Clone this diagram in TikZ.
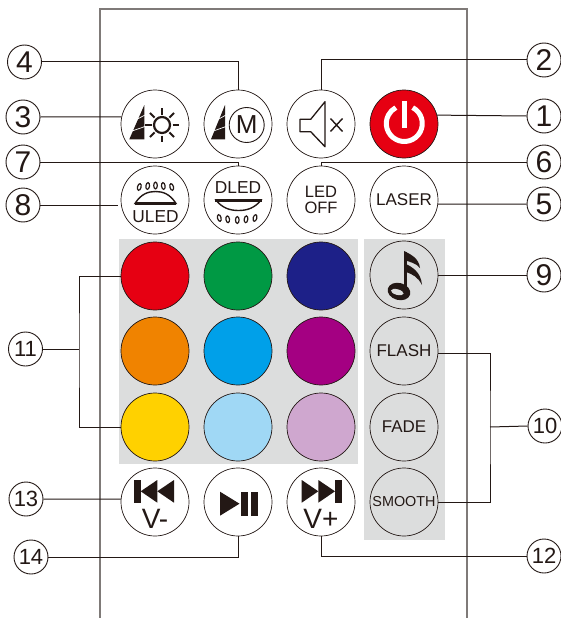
\documentclass[tikz,border=0pt]{standalone}
\usepackage{fontspec}
\setmainfont{Liberation Sans}
\definecolor{ink}{HTML}{231815}
\definecolor{body}{HTML}{7F7A78}
\definecolor{panel}{HTML}{DCDDDD}
\definecolor{cRed}{HTML}{E60012}
\definecolor{cGreen}{HTML}{009944}
\definecolor{cNavy}{HTML}{1D2088}
\definecolor{cOrange}{HTML}{F08300}
\definecolor{cBlue}{HTML}{00A0E9}
\definecolor{cPurple}{HTML}{A40082}
\definecolor{cYellow}{HTML}{FFD100}
\definecolor{cSky}{HTML}{A0D8F5}
\definecolor{cMauve}{HTML}{CFA7CF}
\tikzset{
  btn/.style={circle,draw=ink,line width=0.7pt,fill=white,minimum size=68pt,inner sep=0pt,text=ink,align=center,font=\fontsize{17}{18}\selectfont},
  swatch/.style={btn,fill=#1},
  numlabel/.style={circle,draw=ink,line width=0.9pt,fill=white,minimum size=34pt,inner sep=0pt,text=ink,font=\fontsize{30}{30}\selectfont},
  numsmall/.style={numlabel,font=\fontsize{22}{22}\selectfont},
  leader/.style={draw=ink,line width=1pt},
  gap/.style={draw=white,line width=0.7pt},
  led/.style={draw=ink,line width=1.2pt,fill=white},
  icontext/.style={text=ink,inner sep=0pt,font=\fontsize{17.3}{18}\selectfont},
  bigtext/.style={anchor=base,text=ink,inner sep=0pt,font=\fontsize{28}{28}\selectfont},
}
\begin{document}
\begin{tikzpicture}[x=1pt,y=-1pt]
\useasboundingbox (0,0) rectangle (561,618);
% panels
\fill[panel] (119,239) rectangle (358,464);
\fill[panel] (364,239) rectangle (445,540);
% remote body
\draw[body,line width=1.1pt] (100,618) -- (100,9) -- (467,9) -- (467,618);
% buttons
\node[btn] (b3) at (155,124) {};
\node[btn] (b4) at (238,124) {};
\node[btn] (b2) at (321,124) {};
\node[btn,fill=cRed] (b1) at (404,124) {};
\node[btn] (b8) at (155,200) {};
\node[btn] (b7) at (238,200) {};
\node[btn,font=\fontsize{16.5}{16.5}\selectfont] (b6) at (321,200) {LED\\OFF};
\node[btn] (b5) at (404,200) {LASER};
\node[swatch=cRed] (c11) at (155,276) {};
\node[swatch=cGreen] (c12) at (238,276) {};
\node[swatch=cNavy] (c13) at (321,276) {};
\node[swatch=cOrange] (c21) at (155,351) {};
\node[swatch=cBlue] (c22) at (238,351) {};
\node[swatch=cPurple] (c23) at (321,351) {};
\node[swatch=cYellow] (c31) at (155,427) {};
\node[swatch=cSky] (c32) at (238,427) {};
\node[swatch=cMauve] (c33) at (321,427) {};
\node[btn,fill=panel] (b9) at (404,275) {};
\node[btn,fill=panel] (bf) at (404,351) {FLASH};
\node[btn,fill=panel] (bd) at (404,427) {FADE};
\node[btn,fill=panel,font=\fontsize{14.4}{15}\selectfont] (bs) at (404,502) {SMOOTH};
\node[btn] (b13) at (155,502) {};
\node[btn] (b14) at (238,502) {};
\node[btn] (b12) at (321,502) {};
% number labels
\node[numlabel] (n4) at (24.5,62) {4};
\node[numlabel] (n3) at (23,117) {3};
\node[numlabel] (n7) at (23,162) {7};
\node[numlabel] (n8) at (23,205) {8};
\node[numsmall] (n11) at (25.5,349) {11};
\node[numsmall] (n13) at (26,499) {13};
\node[numsmall] (n14) at (31,557) {14};
\node[numlabel] (n2) at (544,60) {2};
\node[numlabel] (n1) at (544,116) {1};
\node[numlabel] (n6) at (544,162) {6};
\node[numlabel] (n5) at (544,204) {5};
\node[numlabel] (n9) at (544,275) {9};
\node[numsmall] (n10) at (545,426) {10};
\node[numsmall] (n12) at (544,556) {12};
% leaders
\coordinate (k11) at (79,349);
\coordinate (k10) at (490,427);
\draw[leader] (n4.east) -| (b4.north);
\draw[leader] (n3.east) -- (b3.168);
\draw[leader] (n7.east) -| (b7.north);
\draw[leader,shorten >=3pt] (n8.east) -- (b8.west |- n8.east);
\draw[leader] (n2.west) -| (b2.north);
\draw[leader] (n1.west) -- (b1.15);
\draw[leader] (n6.west) -| (b6.north);
\draw[leader] (n5.west) -- (b5.-7);
\draw[leader] (n9.west) -- (b9.east);
\draw[leader] (n11.east) -- (k11);
\draw[leader] (c11.west) -| (k11) |- (c31.west);
\draw[leader] (n10.west) -- (k10);
\draw[leader] (bf.-5) -| (k10) |- (bs.east);
\draw[leader] (n13.east) -- (b13.175);
\draw[leader] (n14.east) -| (b14.south);
\draw[leader] (n12.west) -| (b12.south);
% brightness icon
\fill[ink] (129.3,139.3) -- (144.3,105) -- (144.3,139.3) -- cycle;
\draw[gap] (132,131) -- (145,126.5);
\draw[gap] (136.5,119.5) -- (145,115);
\draw[ink,line width=2.2pt] (162,125) circle (8);
\foreach \a in {0,45,...,315}{\draw[ink,line width=2pt] (162,125) ++(\a:10.5) -- ++(\a:6.5);}
% mode icon
\fill[ink] (211,139.3) -- (225,105) -- (225,139.3) -- cycle;
\draw[gap] (213.5,131) -- (226,126.5);
\draw[gap] (218,119.5) -- (226,115);
\draw[ink,line width=0.9pt] (246.7,125) circle (17.5);
\node[text=ink,inner sep=0pt,font=\fontsize{26}{26}\selectfont] (mm) at (246.7,125) {M};
% mute icon
\draw[ink,line width=1.3pt,line join=round] (300,119.3) -- (310.7,119.3) -- (325,101.7) -- (325,146.7) -- (310.7,131.7) -- (300,131.7) -- cycle;
\draw[ink,line width=1.4pt] (330.5,118.5) -- (342.5,131.5) (342.5,118.5) -- (330.5,131.5);
% power icon (the y axis points down, so the gap at the top is round angle -90)
\draw[white,line width=5pt] (404.3,123.5) ++(-62:18) arc[start angle=-62,end angle=242,radius=18];
\fill[white] (401.5,100.7) rectangle (407.1,127.5);
% uled
\draw[ink,line width=1.4pt,fill=white] (135,203.5) .. controls (141,194) and (148,191.5) .. (155.5,191.5) .. controls (163,191.5) and (170,194) .. (176,203.5) -- cycle;
\fill[ink] (135,202) rectangle (176,204.8);
\foreach \x/\y/\r in {139.3/187/-15,147.7/186/-8,155.5/185.5/0,163.3/186/8,171.7/187/15}{\draw[led,rotate around={\r:(\x,\y)}] (\x,\y) ellipse (1.8 and 3.4);}
\node[icontext] (ul) at (155.5,216.7) {ULED};
% dled
\node[icontext] (dl) at (238,188) {DLED};
\draw[ink,line width=1.4pt,fill=white] (216,200) .. controls (222,208) and (230,210.5) .. (238.5,210.5) .. controls (247,210.5) and (255,208) .. (261,200) -- cycle;
\fill[ink] (215,198.8) rectangle (262,201.6);
\foreach \x/\y/\r in {219.3/218/15,227.7/219.3/8,237.3/220/0,246/219.3/-8,255/218/-15}{\draw[led,rotate around={\r:(\x,\y)}] (\x,\y) ellipse (1.8 and 3.4);}
% note icon
\fill[ink,rotate around={-15:(399,291.5)}] (399,291.5) ellipse (11.5 and 8.5);
\fill[panel,rotate around={-15:(399,291.5)}] (397.5,292.5) ellipse (6.5 and 2.8);
\draw[ink,line width=3pt] (405.5,252) -- (405.5,291);
\fill[ink] (404,251) .. controls (410,254) and (419,258) .. (420,268) .. controls (416,263) and (410,262) .. (404,260) -- cycle;
\fill[ink] (406,264) .. controls (412,267) and (421,272) .. (422,285) .. controls (418,277) and (412,274) .. (406,272) -- cycle;
% prev
\fill[ink] (134.3,480) rectangle (140.7,502.7);
\fill[ink] (157.3,480) -- (140.7,491.3) -- (157.3,502.7) -- cycle;
\fill[ink] (174,480) -- (157.3,491.3) -- (174,502.7) -- cycle;
\node[bigtext] (vm) at (155,528.3) {V-};
% play pause
\fill[ink] (220,491.7) -- (239.5,503.7) -- (220,515.7) -- cycle;
\fill[ink] (241,491.7) rectangle (247.7,515.7);
\fill[ink] (251,491.7) rectangle (257.7,515.7);
% next
\fill[ink] (301.7,480) -- (318.3,491.3) -- (301.7,502.7) -- cycle;
\fill[ink] (318.3,480) -- (335,491.3) -- (318.3,502.7) -- cycle;
\fill[ink] (335,480) rectangle (341.7,502.7);
\node[bigtext] (vp) at (321,528.3) {V+};
\end{tikzpicture}
\end{document}
